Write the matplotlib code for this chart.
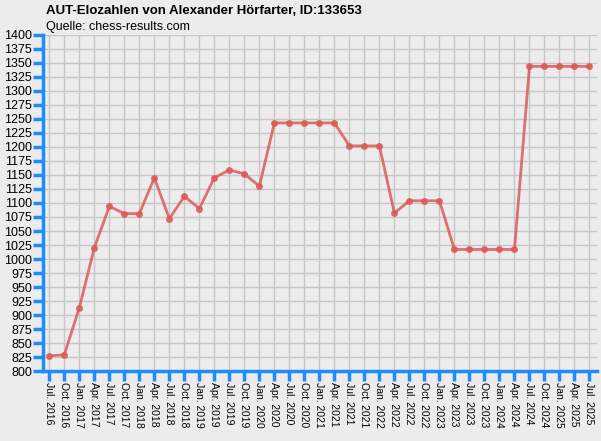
import matplotlib
matplotlib.use("Agg")
import matplotlib.pyplot as plt
import numpy as np

dates = [
    "Jul. 2016", "Oct. 2016", "Jan. 2017", "Apr. 2017", "Jul. 2017", "Oct. 2017",
    "Jan. 2018", "Apr. 2018", "Jul. 2018", "Oct. 2018", "Jan. 2019", "Apr. 2019",
    "Jul. 2019", "Oct. 2019", "Jan. 2020", "Apr. 2020", "Jul. 2020", "Oct. 2020",
    "Jan. 2021", "Apr. 2021", "Jul. 2021", "Oct. 2021", "Jan. 2022", "Apr. 2022",
    "Jul. 2022", "Oct. 2022", "Jan. 2023", "Apr. 2023", "Jul. 2023", "Oct. 2023",
    "Jan. 2024", "Apr. 2024", "Jul. 2024", "Oct. 2024", "Jan. 2025", "Apr. 2025",
    "Jul. 2025",
]
elo = [
    827, 829, 913, 1020, 1094, 1081,
    1081, 1145, 1072, 1112, 1090, 1145,
    1159, 1152, 1130, 1243, 1243, 1243,
    1243, 1243, 1202, 1202, 1202, 1082,
    1104, 1104, 1104, 1017, 1017, 1017,
    1017, 1017, 1344, 1344, 1344, 1344,
    1344,
]
y_ticks = list(range(800, 1401, 25))

bg = "#ececec"
blue = "#1e8cff"
plt.rcParams["font.family"] = ["Liberation Sans", "DejaVu Sans"]

fig = plt.figure(figsize=(6.01, 4.41), dpi=100, facecolor=bg)
ax = fig.add_axes([43 / 601, 70 / 441, 554 / 601, 336 / 441], facecolor=bg)

x = np.arange(len(dates))
ax.plot(x, elo, color="#dc5a5a", alpha=0.85, lw=2, marker="o", ms=4,
        zorder=3, clip_on=False)

ax.set_xlim(-0.42, 36.5)
ax.set_ylim(800, 1400)
ax.set_xticks(x)
ax.set_xticklabels(dates, rotation=270, fontsize=7.5)
ax.set_yticks(y_ticks)
ax.set_yticklabels([str(v) for v in y_ticks], fontsize=9)

ax.grid(True, color="#c6c6c6", lw=1)
ax.set_axisbelow(True)
for side in ("top", "right"):
    ax.spines[side].set_visible(False)
for side in ("left", "bottom"):
    ax.spines[side].set_color(blue)
    ax.spines[side].set_linewidth(2.5)
ax.tick_params(axis="both", color=blue, width=2.5, length=7, pad=1)

fig.text(46 / 601, 1 - 11 / 441, "AUT-Elozahlen von Alexander Hörfarter, ID:133653",
         fontsize=9.5, fontweight="bold", va="center", ha="left")
fig.text(46 / 601, 1 - 27 / 441, "Quelle: chess-results.com",
         fontsize=9, va="center", ha="left")

fig.savefig("out.png", dpi=100, facecolor=bg)
